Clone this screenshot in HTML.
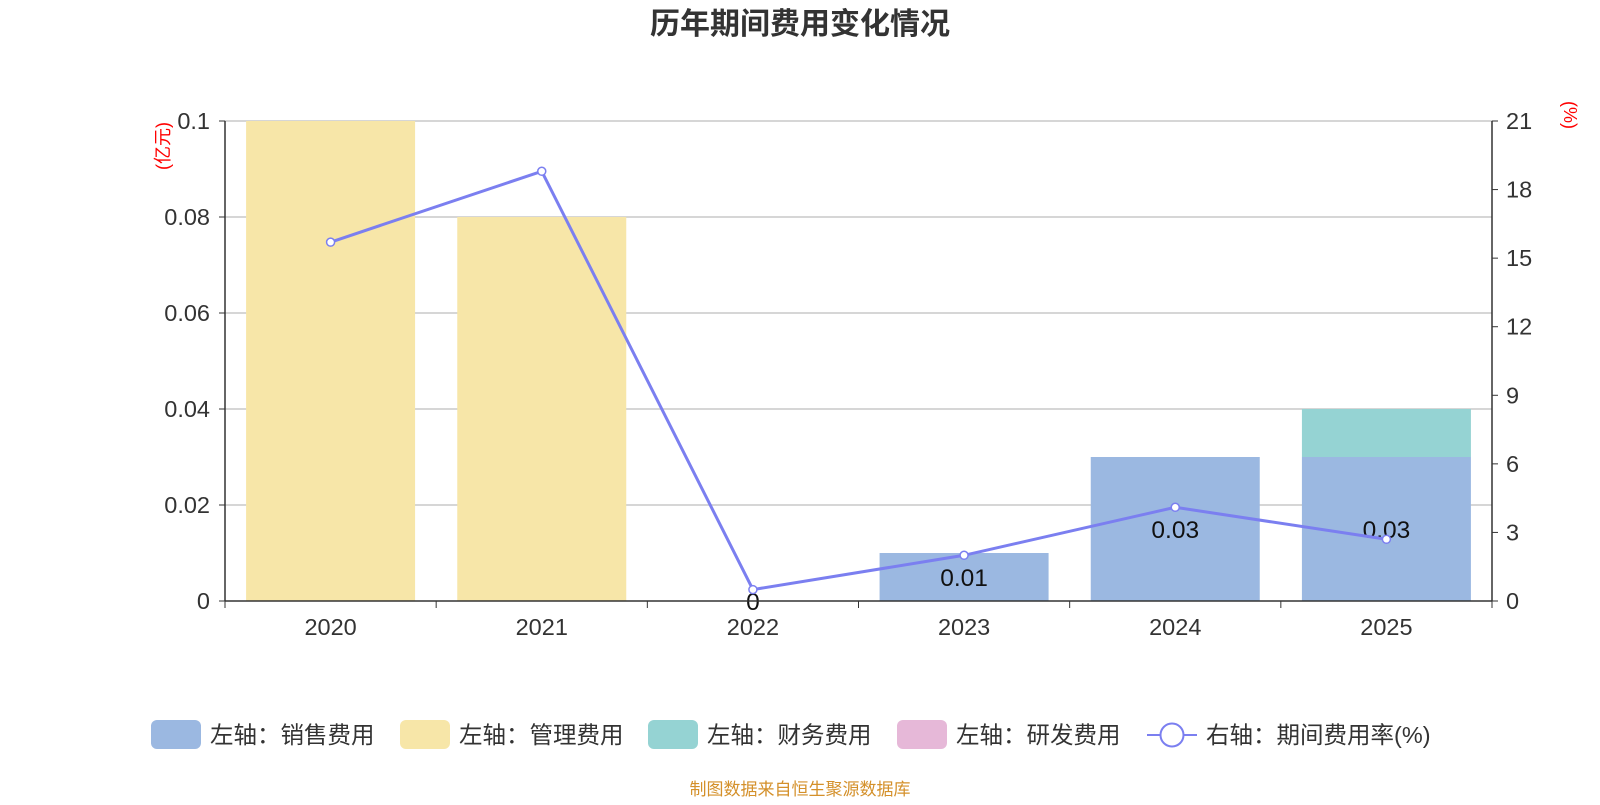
<!DOCTYPE html>
<html><head><meta charset="utf-8"><style>
body{margin:0;background:#fff;}
svg text{font-family:"Liberation Sans","Noto Sans CJK SC",sans-serif;}
</style></head><body>
<svg id="c" width="1600" height="800" xmlns="http://www.w3.org/2000/svg">
<text x="800" y="34" text-anchor="middle" font-size="30" font-weight="bold" fill="#333">历年期间费用变化情况</text>
<g id="grid"></g><g id="bars"></g><g id="line"></g><g id="axes"></g><g id="legend"></g>
<text x="800" y="795" text-anchor="middle" font-size="17" fill="#d4902a">制图数据来自恒生聚源数据库</text>
</svg>
<script>
const categories=["2020","2021","2022","2023","2024","2025"];
const sales=[0,0,0,0.01,0.03,0.03];
const admin=[0.1,0.08,0,0,0,0];
const finance=[0,0,0,0,0,0.01];
const rnd=[0,0,0,0,0,0];
const rate=[15.7,18.8,0.5,2.0,4.1,2.7];
const leftTicks=["0","0.02","0.04","0.06","0.08","0.1"];
const rightTicks=["0","3","6","9","12","15","18","21"];
const salesLabels=["","","0","0.01","0.03","0.03"];

const NS="http://www.w3.org/2000/svg";
const L=225,R=1492,T=121,B=601;
const yL=v=>B-(v/0.1)*(B-T);
const yR=v=>B-(v/21)*(B-T);
const bw=(R-L)/categories.length;
const xC=i=>L+bw*(i+0.5);
function mk(p,tag,a,txt){const e=document.createElementNS(NS,tag);for(const k in a)e.setAttribute(k,a[k]);if(txt!==undefined)e.textContent=txt;document.getElementById(p).appendChild(e);return e;}
leftTicks.forEach((t,i)=>{const v=parseFloat(t);const y=yL(v);
 if(v>0){const g=mk('grid','line',{x1:L,x2:R,y1:y,y2:y,stroke:'#c8c8c8','stroke-width':1.5});
 
 }
 const tx=mk('axes','text',{x:L-15,y:y+8,'text-anchor':'end','font-size':23.5,fill:'#333'},t);
 
 
 mk('axes','line',{x1:L-6,x2:L,y1:y,y2:y,stroke:'#333'});
});
rightTicks.forEach(t=>{const y=yR(parseFloat(t));
 const tx=mk('axes','text',{x:R+14,y:y+8,'font-size':23.5,fill:'#333'},t);
 
 
 mk('axes','line',{x1:R,x2:R+6,y1:y,y2:y,stroke:'#333'});
});
mk('axes','line',{x1:L,x2:L,y1:T,y2:B,stroke:'#333','stroke-width':1.5});
mk('axes','line',{x1:R,x2:R,y1:T,y2:B,stroke:'#333','stroke-width':1.5});
mk('axes','line',{x1:L,x2:R,y1:B,y2:B,stroke:'#333','stroke-width':1.5});
for(let i=0;i<=categories.length;i++)mk('axes','line',{x1:L+bw*i,x2:L+bw*i,y1:B,y2:B+7,stroke:'#333'});
categories.forEach((c,i)=>{const t=mk('axes','text',{x:xC(i),y:B+34,'text-anchor':'middle','font-size':23.5,fill:'#333'},c);
 
 });
const yl=mk('axes','text',{transform:`translate(169,146) rotate(-90)`,'text-anchor':'middle','font-size':18,fill:'red'},'(亿元)');


const yr=mk('axes','text',{transform:`translate(1564,115) rotate(90)`,'text-anchor':'middle','font-size':18,fill:'red'},'(%)');


const series=[[sales,'#9bb8e1','sales'],[admin,'#f7e6a8','admin'],[finance,'#95d3d3','finance'],[rnd,'#e6b8d8','rnd']];
const barW=169;
categories.forEach((c,i)=>{let acc=0;series.forEach(([arr,col,nm])=>{const v=arr[i];if(v>0){
 const r=mk('bars','rect',{x:xC(i)-barW/2,y:yL(acc+v),width:barW,height:yL(acc)-yL(acc+v),fill:col});
 
 }
 acc+=v;});});
categories.forEach((c,i)=>{if(salesLabels[i]!==""){const t=mk('line','text',{x:xC(i),y:(yL(0)+yL(sales[i]))/2+9,'text-anchor':'middle','font-size':24.5,fill:'#111'},salesLabels[i]);
 
 }});
const pl=mk('line','polyline',{points:rate.map((v,i)=>xC(i)+','+yR(v)).join(' '),fill:'none',stroke:'#7b7ff0','stroke-width':3});


rate.forEach((v,i)=>{const p=mk('line','circle',{cx:xC(i),cy:yR(v),r:4,fill:'#fff',stroke:'#7b7ff0','stroke-width':1.5});
 
 });
const leg=[['左轴：销售费用','#9bb8e1',151],['左轴：管理费用','#f7e6a8',400],['左轴：财务费用','#95d3d3',648],['左轴：研发费用','#e6b8d8',897]];
leg.forEach(([t,c,x])=>{const r=mk('legend','rect',{x:x,y:720,width:50,height:29,rx:6,fill:c});
 
 
 const tx=mk('legend','text',{x:x+59,y:743,'font-size':23.5,fill:'#333'},t);
 
 });
mk('legend','line',{x1:1147,x2:1197,y1:735,y2:735,stroke:'#7b7ff0','stroke-width':2});
mk('legend','circle',{cx:1172,cy:735,r:11.5,fill:'#fff',stroke:'#7b7ff0','stroke-width':2});
const lt=mk('legend','text',{x:1206,y:743,'font-size':23.5,fill:'#333'},'右轴：期间费用率(%)');


</script>
</body></html>
